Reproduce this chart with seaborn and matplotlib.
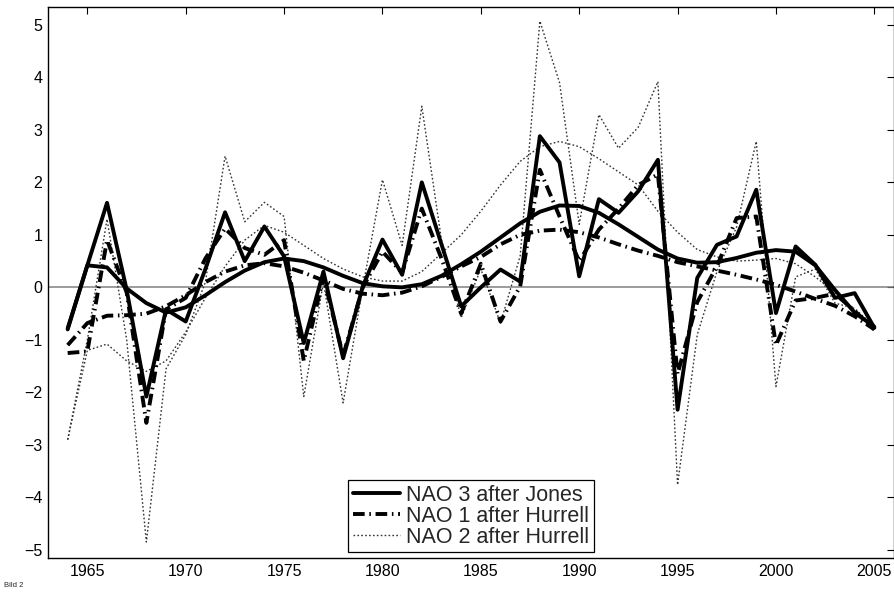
import matplotlib
matplotlib.use('Agg')
import matplotlib.pyplot as plt
import seaborn as sns
import pandas as pd

# NAO winter index, 1964-2005
years = list(range(1964, 2006))

nao3_jones = [-0.80, 0.42, 1.61, -0.05, -2.08, -0.42, -0.65, 0.35, 1.43, 0.50,
              1.16, 0.59, -1.06, 0.30, -1.35, 0.02, 0.91, 0.24, 2.00, 0.82,
              -0.36, 0.00, 0.34, 0.11, 2.88, 2.38, 0.21, 1.68, 1.42, 1.83,
              2.43, -2.33, 0.18, 0.81, 0.97, 1.86, -0.49, 0.78, 0.43, -0.20,
              -0.11, -0.77]
nao3_smooth = [-0.78, 0.42, 0.38, -0.02, -0.30, -0.48, -0.38, -0.15, 0.10, 0.32,
               0.48, 0.55, 0.50, 0.38, 0.22, 0.08, 0.02, 0.00, 0.06, 0.22,
               0.44, 0.68, 0.95, 1.22, 1.44, 1.56, 1.55, 1.42, 1.20, 0.96,
               0.72, 0.55, 0.47, 0.48, 0.56, 0.66, 0.71, 0.68, 0.42, -0.05,
               -0.48, -0.75]

nao1_hurrell = [-1.25, -1.22, 0.90, -0.10, -2.58, -0.42, -0.20, 0.55, 1.12, 0.75,
                0.62, 0.90, -1.40, 0.20, -1.30, 0.00, 0.68, 0.28, 1.50, 0.55,
                -0.50, 0.45, -0.65, 0.02, 2.24, 1.35, 0.50, 1.10, 1.50, 1.95,
                2.15, -1.65, -0.28, 0.40, 1.32, 1.35, -1.10, -0.25, -0.20, -0.12,
                -0.45, -0.80]
nao1_smooth = [-1.10, -0.68, -0.54, -0.53, -0.50, -0.36, -0.15, 0.10, 0.30, 0.42,
               0.46, 0.40, 0.28, 0.13, -0.03, -0.12, -0.15, -0.10, 0.02, 0.20,
               0.40, 0.58, 0.82, 1.00, 1.08, 1.10, 1.05, 0.95, 0.82, 0.70,
               0.60, 0.48, 0.40, 0.32, 0.24, 0.15, 0.05, -0.08, -0.22, -0.35,
               -0.55, -0.80]

nao2_hurrell = [-2.90, -1.00, 1.30, -1.00, -4.85, -1.55, -0.90, 0.10, 2.50, 1.25,
                1.62, 1.35, -2.08, 0.10, -2.20, 0.00, 2.05, 0.80, 3.45, 0.90,
                -0.58, 0.35, -0.68, 0.60, 5.07, 3.90, 1.20, 3.29, 2.65, 3.05,
                3.92, -3.76, -0.90, 0.30, 1.15, 2.78, -1.89, 0.20, 0.35, -0.30,
                -0.40, -0.75]
nao2_smooth = [-2.90, -1.20, -1.08, -1.40, -1.60, -1.40, -0.85, -0.20, 0.40, 0.90,
               1.18, 1.05, 0.80, 0.55, 0.35, 0.20, 0.12, 0.12, 0.30, 0.65,
               1.00, 1.45, 1.95, 2.40, 2.68, 2.78, 2.68, 2.45, 2.20, 1.95,
               1.45, 1.05, 0.72, 0.58, 0.50, 0.52, 0.55, 0.45, 0.20, -0.10,
               -0.45, -0.75]

legend_labels = ['NAO 3 after Jones', 'NAO 1 after Hurrell', 'NAO 2 after Hurrell']
x_ticks = [1965, 1970, 1975, 1980, 1985, 1990, 1995, 2000, 2005]
y_ticks = [-5, -4, -3, -2, -1, 0, 1, 2, 3, 4, 5]

df = pd.DataFrame({
    'year': years,
    'nao3': nao3_jones, 'nao3_s': nao3_smooth,
    'nao1': nao1_hurrell, 'nao1_s': nao1_smooth,
    'nao2': nao2_hurrell, 'nao2_s': nao2_smooth,
})

sns.set_style('white')
plt.rcParams['font.family'] = ['Liberation Sans', 'DejaVu Sans']

fig = plt.figure(figsize=(8.94, 5.95), dpi=100)
ax = fig.add_axes([48 / 894, 1 - 558.3 / 595, 846 / 894, 551.3 / 595])

# zero line
ax.axhline(0, color='0.5', linewidth=1.1, zorder=1)

dotted = (0, (1.2, 1.6))
dashdot = (0, (3.0, 1.2, 0.4, 1.2))

# NAO 2 (dotted, thin)
sns.lineplot(data=df, x='year', y='nao2', ax=ax, color='0.2', linewidth=1.0,
             linestyle=dotted, label=legend_labels[2], zorder=2)
sns.lineplot(data=df, x='year', y='nao2_s', ax=ax, color='0.2', linewidth=1.0,
             linestyle=dotted, zorder=2)

# NAO 1 (dash-dot, thick)
sns.lineplot(data=df, x='year', y='nao1', ax=ax, color='black', linewidth=2.8,
             linestyle=dashdot, label=legend_labels[1], zorder=3)
sns.lineplot(data=df, x='year', y='nao1_s', ax=ax, color='black', linewidth=2.8,
             linestyle=dashdot, zorder=3)

# NAO 3 (solid, thick)
sns.lineplot(data=df, x='year', y='nao3', ax=ax, color='black', linewidth=2.8,
             label=legend_labels[0], zorder=4)
sns.lineplot(data=df, x='year', y='nao3_s', ax=ax, color='black', linewidth=2.8,
             zorder=4)

ax.set_xlim(1963, 2006)
ax.set_ylim(-5.16, 5.34)
ax.set_xticks(x_ticks)
ax.set_yticks(y_ticks)
ax.set_xlabel('')
ax.set_ylabel('')
ax.tick_params(direction='in', top=True, right=True, length=5, width=0.8,
               labelsize=11.5, colors='black', pad=4)
for sp in ax.spines.values():
    sp.set_visible(True)
    sp.set_color('black')
    sp.set_linewidth(1.0)

lines = ax.get_lines()
handles = {l.get_label(): l for l in lines}
leg = ax.legend([handles[t] for t in legend_labels], legend_labels,
                loc='lower center', bbox_to_anchor=(0.5, 0.0),
                fontsize=15.5, frameon=True, fancybox=False, framealpha=1,
                edgecolor='black', handlelength=2.2, handletextpad=0.3,
                labelspacing=0.0, borderpad=0.2, borderaxespad=0.3)
leg.get_frame().set_linewidth(0.9)

fig.text(0.004, 0.013, 'Bild 2', fontsize=5.5)

fig.savefig('out.png', dpi=100)
plt.close(fig)
